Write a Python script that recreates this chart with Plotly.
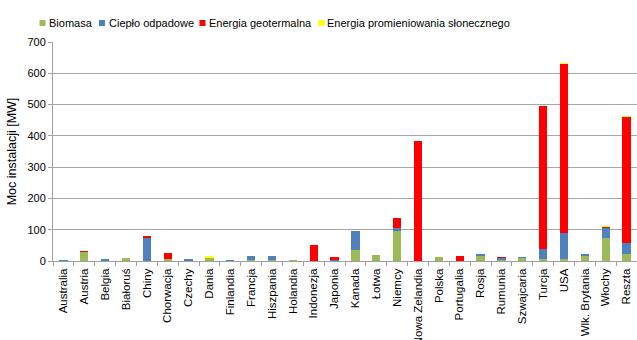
import plotly.graph_objects as go

# Installed capacity by country, stacked by source [MW]
countries = ["Australia", "Austria", "Belgia", "Białoruś", "Chiny", "Chorwacja", "Czechy",
             "Dania", "Finlandia", "Francja", "Hiszpania", "Holandia", "Indonezja", "Japonia",
             "Kanada", "Łotwa", "Niemcy", "Nowa Zelandia", "Polska", "Portugalia", "Rosja",
             "Rumunia", "Szwajcaria", "Turcja", "USA", "Wlk. Brytania", "Włochy", "Reszta"]
biomasa = [1, 30, 1, 9, 0, 8, 3, 12, 2, 2, 4, 1, 0, 0, 35, 19, 97, 0, 12, 0, 18, 4, 10, 5, 8, 17, 75, 21]
cieplo_odpadowe = [1, 0, 4, 0, 76, 0, 1, 0, 1, 13, 11, 0, 0, 3, 60, 0, 7, 0, 0, 0, 2, 7, 2, 32, 80, 3, 32, 38]
geotermalna = [0, 1, 0, 0, 3, 17, 0, 0, 0, 0, 0, 0, 50, 9, 0, 0, 33, 383, 0, 16, 0, 1, 0, 458, 543, 0, 2, 403]
sloneczna = [0, 0, 0, 0, 0, 0, 0, 5, 0, 0, 0, 0, 0, 0, 0, 0, 0, 0, 0, 0, 0, 0, 0, 0, 1, 0, 2, 0.5]

series_names = ["Biomasa", "Ciepło odpadowe", "Energia geotermalna", "Energia promieniowania słonecznego"]
series_values = [biomasa, cieplo_odpadowe, geotermalna, sloneczna]
colors = ["#9BBB59", "#4F81BD", "#FF0000", "#FFFF00"]

y_ticks = [0, 100, 200, 300, 400, 500, 600, 700]

W, H = 637, 340
L, R, T, B = 53, 0, 42, 79
PW, PH = W - L - R, H - T - B

fig = go.Figure()
for name, vals, col in zip(series_names, series_values, colors):
    fig.add_trace(go.Bar(
        x=countries, y=vals, name=name,
        marker=dict(color=col, line=dict(width=0)),
        showlegend=False,
    ))

# Legend drawn as small squares with labels in one row above the plot
legend_items = [(39.5, 46.5), (99, 106.5), (199.5, 207), (318.5, 325)]
legend_y = 23
for (mx, tx), name, col in zip(legend_items, series_names, colors):
    fig.add_shape(type="rect", xref="paper", yref="paper",
                  x0=(mx - L) / PW, x1=(mx + 6 - L) / PW,
                  y0=(H - B - (legend_y + 3)) / PH, y1=(H - B - (legend_y - 3)) / PH,
                  fillcolor=col, line=dict(width=0))
    fig.add_annotation(xref="paper", yref="paper",
                       x=(tx - L) / PW, y=(H - B - legend_y) / PH,
                       text=name, showarrow=False, xanchor="left", yanchor="middle",
                       font=dict(family="Liberation Sans, Arial, sans-serif", size=11, color="#000000"))

fig.update_layout(
    width=W, height=H,
    margin=dict(l=L, r=R, t=T, b=B, pad=0, autoexpand=False),
    barmode="stack",
    bargap=0.6,
    plot_bgcolor="white",
    paper_bgcolor="white",
    font=dict(family="Liberation Sans, Arial, sans-serif", size=11, color="#000000"),
)
fig.update_xaxes(
    automargin=False,
    tickangle=-90,
    showline=True, linecolor="#A0A0A0", linewidth=1,
    ticks="outside", tickson="boundaries", ticklen=4, tickcolor="#A0A0A0",
    showgrid=False,
    tickfont=dict(size=11.5),
    ticklabelstandoff=2,
)
fig.update_yaxes(
    automargin=False,
    range=[0, 700],
    tickvals=y_ticks,
    showline=True, linecolor="#A0A0A0", linewidth=1,
    ticks="outside", ticklen=4, tickcolor="#A0A0A0",
    showgrid=True, gridcolor="#A6A6A6", gridwidth=1,
    zeroline=False,
    tickfont=dict(size=11),
    title=dict(text="Moc instalacji [MW]", font=dict(size=12.5), standoff=8),
)

fig.write_html("out.html")
